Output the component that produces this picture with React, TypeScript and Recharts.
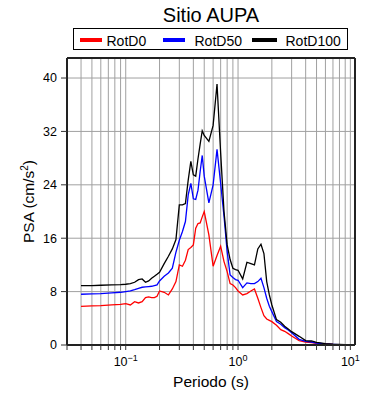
import { CartesianGrid, Legend, Line, LineChart, XAxis, YAxis } from "recharts";

const PERIODS = [
  0.04, 0.05, 0.06, 0.075, 0.09, 0.1, 0.11, 0.12, 0.13, 0.14, 0.15, 0.16, 0.17, 0.18, 0.19, 0.2,
  0.22, 0.24, 0.26, 0.28, 0.3, 0.32, 0.34, 0.36, 0.38, 0.4, 0.42, 0.44, 0.46, 0.48, 0.5,
  0.55, 0.6, 0.65, 0.7, 0.75, 0.8, 0.85, 0.9, 0.95, 1.0, 1.1, 1.2, 1.3, 1.4, 1.5, 1.6, 1.7, 1.8, 1.9, 2.0,
  2.2, 2.4, 2.6, 2.8, 3.0, 3.5, 4.0, 4.5, 5.0, 6.0, 7.0, 8.0, 9.0, 10.0,
];

const ROTD0 = [
  5.8, 5.85, 5.9, 6.0, 6.1, 6.2, 6.0, 6.5, 6.3, 6.5, 7.1, 7.2, 7.1, 7.1, 7.3, 8.1,
  7.9, 7.5, 8.4, 9.5, 12.0, 11.8, 12.7, 14.3, 14.6, 15.0, 17.5, 18.2, 18.3, 19.2, 20.0,
  16.5, 11.8, 13.4, 14.8, 12.5, 11.0, 9.2, 9.0, 8.6, 8.1, 7.5, 7.7, 8.1, 8.4, 7.0, 5.6, 4.4, 3.9, 3.7, 3.5,
  2.95, 2.3, 2.05, 1.7, 1.35, 0.65, 0.45, 0.35, 0.25, 0.15, 0.08, 0.06, 0.05, 0.04,
];

const ROTD50 = [
  7.6, 7.65, 7.7, 7.8, 7.9, 8.0, 8.1, 8.3, 8.5, 8.65, 8.7, 8.75, 8.8, 8.9, 9.0, 9.6,
  10.3, 10.8, 11.5, 13.9, 15.7, 17.0, 18.5, 22.5, 24.2, 21.9, 21.8, 23.2, 26.0, 28.4, 25.3,
  21.3, 24.0, 29.3, 24.2, 19.3, 14.0, 10.5, 10.1, 9.8, 9.7, 8.6, 9.3, 9.2, 9.2, 9.5, 10.0, 8.6, 7.0, 5.8, 5.0,
  3.5, 3.1, 2.6, 2.25, 1.85, 0.85, 0.55, 0.45, 0.3, 0.15, 0.1, 0.07, 0.05, 0.04,
];

const ROTD100 = [
  8.9, 8.9, 8.95, 9.0, 9.05, 9.1, 9.2, 9.4, 9.8, 9.9, 9.4, 9.6, 10.0, 10.3, 10.6, 10.9,
  12.2, 13.3, 14.4, 15.8, 21.0, 21.0, 21.2, 24.7, 27.5, 25.5, 25.3, 27.9, 30.1, 32.1, 31.4,
  30.5, 32.9, 39.1, 28.8, 20.0, 15.0, 12.8, 11.5, 11.3, 11.2, 9.9, 12.4, 12.2, 12.0, 14.4, 15.1, 13.7, 9.5, 7.5, 6.0,
  3.8, 3.4, 2.8, 2.4, 2.0, 1.3, 0.65, 0.6, 0.4, 0.2, 0.12, 0.08, 0.06, 0.05,
];

const X_TICKS = [
  0.03, 0.04, 0.05, 0.06, 0.07, 0.08, 0.09,
  0.1, 0.2, 0.3, 0.4, 0.5, 0.6, 0.7, 0.8, 0.9,
  1, 2, 3, 4, 5, 6, 7, 8, 9, 10,
];
const X_EXPONENTS: Record<string, string> = { "0.1": "\u22121", "1": "0", "10": "1" };
const Y_TICKS = [0, 8, 16, 24, 32, 40];

const SERIES = [
  { key: "rotd0", name: "RotD0", color: "#ff0000" },
  { key: "rotd50", name: "RotD50", color: "#0000ff" },
  { key: "rotd100", name: "RotD100", color: "#000000" },
];

const data = PERIODS.map((t, i) => ({
  t,
  rotd0: ROTD0[i],
  rotd50: ROTD50[i],
  rotd100: ROTD100[i],
}));

const FRAME = { stroke: "#222", strokeWidth: 2 };
const TICK_LINE = { stroke: "#333", strokeWidth: 1 };

function XTick({ x, y, payload }: any) {
  const exp = X_EXPONENTS[String(payload.value)];
  if (exp === undefined) return <g />;
  return (
    <text x={x} y={y + 14} textAnchor="middle" fontSize={12.5} fill="#000">
      10
      <tspan fontSize={9} dy={-5}>
        {exp}
      </tspan>
    </text>
  );
}

function XTitle({ viewBox }: any) {
  const cx = viewBox.x + viewBox.width / 2;
  return (
    <text x={cx} y={387} textAnchor="middle" fontSize={15.5} fill="#000">
      Periodo (s)
    </text>
  );
}

function YTitle({ viewBox }: any) {
  const cy = viewBox.y + viewBox.height / 2;
  return (
    <text x={34} y={cy} transform={`rotate(-90 34 ${cy})`} textAnchor="middle" fontSize={15.5} fill="#000">
      PSA (cm/s
      <tspan fontSize={10} dy={-6}>
        2
      </tspan>
      <tspan dy={6}>)</tspan>
    </text>
  );
}

// legend item positions inside the box
const LEGEND_POS = [
  { line: 5.5, w: 22, text: 32.5 },
  { line: 88.5, w: 22, text: 120.5 },
  { line: 177.5, w: 25, text: 211.5 },
];

function LegendBox() {
  return (
    <div
      style={{
        position: "relative",
        width: 275,
        height: 22,
        boxSizing: "border-box",
        border: "1.5px solid #000",
        background: "#fff",
      }}
    >
      {SERIES.map((s, i) => (
        <div key={s.key}>
          <div
            style={{
              position: "absolute",
              left: LEGEND_POS[i].line,
              top: 9,
              width: LEGEND_POS[i].w,
              height: 4,
              background: s.color,
            }}
          />
          <span
            style={{
              position: "absolute",
              left: LEGEND_POS[i].text,
              top: 5.3,
              fontSize: 14,
              lineHeight: "14px",
              color: "#000",
              whiteSpace: "nowrap",
            }}
          >
            {s.name}
          </span>
        </div>
      ))}
    </div>
  );
}

export default function App() {
  return (
    <div
      style={{
        position: "absolute",
        left: 0,
        top: 0,
        width: 390,
        height: 400,
        background: "#fff",
        fontFamily: '"Liberation Sans", Arial, sans-serif',
      }}
    >
      <div
        style={{
          position: "absolute",
          left: 67,
          top: 5,
          width: 288,
          textAlign: "center",
          fontSize: 20,
          lineHeight: "20px",
          color: "#000",
        }}
      >
        Sitio AUPA
      </div>
      <LineChart width={390} height={400} data={data} margin={{ top: 48, right: 25, bottom: 10, left: 7 }}>
        <CartesianGrid stroke="#a0a0a0" strokeWidth={1} />
        <XAxis
          dataKey="t"
          type="number"
          scale="log"
          domain={[0.03, 11]}
          allowDataOverflow
          ticks={X_TICKS}
          interval={0}
          tick={<XTick />}
          tickSize={5}
          tickLine={TICK_LINE}
          axisLine={FRAME}
          height={45}
          label={<XTitle />}
        />
        <XAxis
          xAxisId="top"
          orientation="top"
          dataKey="t"
          type="number"
          scale="log"
          domain={[0.03, 11]}
          allowDataOverflow
          ticks={X_TICKS}
          interval={0}
          tick={false}
          tickSize={5}
          tickLine={TICK_LINE}
          axisLine={FRAME}
          height={10}
        />
        <YAxis
          type="number"
          domain={[0, 43]}
          allowDataOverflow
          ticks={Y_TICKS}
          interval={0}
          tick={{ fontSize: 12.5, fill: "#000" }}
          tickSize={6}
          tickMargin={4}
          tickLine={TICK_LINE}
          axisLine={FRAME}
          width={60}
          label={<YTitle />}
        />
        <YAxis
          yAxisId="right"
          orientation="right"
          type="number"
          domain={[0, 43]}
          allowDataOverflow
          ticks={Y_TICKS}
          interval={0}
          tick={false}
          tickSize={5}
          tickLine={TICK_LINE}
          axisLine={FRAME}
          width={10}
        />
        <Legend
          verticalAlign="middle"
          align="center"
          layout="horizontal"
          wrapperStyle={{ position: "absolute", left: 73, top: 28, width: 275, height: 22 }}
          content={() => <LegendBox />}
        />
        {SERIES.map((s) => (
          <Line
            key={s.key}
            dataKey={s.key}
            name={s.name}
            type="linear"
            stroke={s.color}
            strokeWidth={1.3}
            dot={false}
            activeDot={false}
            isAnimationActive={false}
          />
        ))}
      </LineChart>
    </div>
  );
}
